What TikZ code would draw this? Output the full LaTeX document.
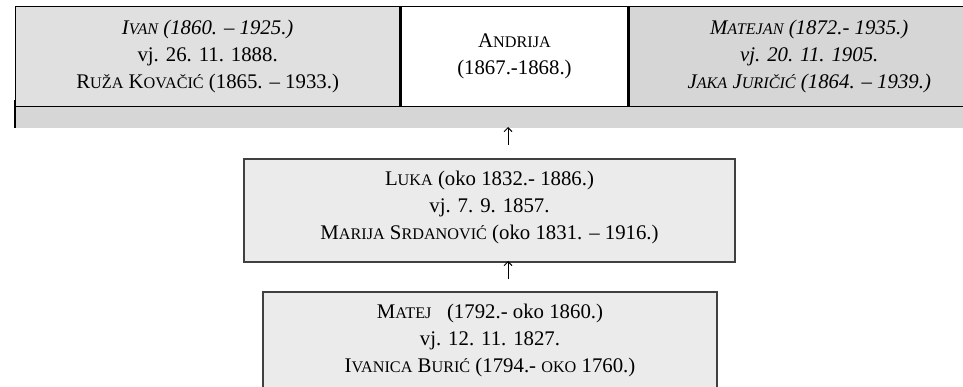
\documentclass[tikz,border=0pt]{standalone}
\usepackage{fontspec}
\setmainfont{Liberation Serif}
\usetikzlibrary{arrows.meta}

\definecolor{hellgrau}{HTML}{E0E0E0}
\definecolor{mittelgrau}{HTML}{D6D6D6}
\definecolor{kastengrau}{HTML}{EBEBEB}
\definecolor{rahmengrau}{HTML}{404040}

% Kapitaelchen von Hand (Anfangsbuchstabe gross, Rest kleiner)
\newcommand{\kap}[2]{#1{\fontsize{16.2}{16.2}\selectfont #2}}

\tikzset{
  schrift/.style={align=center, inner sep=0pt, font=\fontsize{20.8}{27}\selectfont},
  zelle/.style={schrift, draw=black, line width=1.3pt, anchor=north west},
  kasten/.style={draw=rahmengrau, fill=kastengrau, line width=2pt, anchor=north west, inner sep=0pt},
  pfeil/.style={-{Straight Barb[length=4pt,width=8pt]}, line width=0.9pt}
}

\begin{document}
\begin{tikzpicture}[x=1pt,y=-1pt]
				      \useasboundingbox (0,0) rectangle (963,387);
				      \clip (0,0) rectangle (963,387);

				      % Streifen unter der oberen Reihe
				      \fill[mittelgrau] (15,106) rectangle (980,128);
				      \draw[line width=1.3pt] (15,100) -- (15,128);

				      % Obere Reihe: Geschwister
				      \node[zelle, fill=hellgrau, minimum width=384pt, minimum height=100pt] (ivan) at (15,6)
				        {\itshape\kap{I}{VAN} (1860. -- 1925.)\\vj. 26. 11. 1888.\\\kap{R}{UŽA} \kap{K}{OVAČIĆ} (1865. -- 1933.)};
				      \node[zelle, fill=white, minimum width=227pt, minimum height=100pt] (andrija) at (ivan.north east)
				        {\kap{A}{NDRIJA}\\(1867.-1868.)};
				      \node[zelle, fill=mittelgrau, minimum width=360pt, minimum height=100pt] (matejan) at (andrija.north east)
				        {\itshape\kap{M}{ATEJAN} (1872.- 1935.)\\\itshape vj. 20. 11. 1905.\\\itshape\kap{J}{AKA} \kap{J}{URIČIĆ} (1864. -- 1939.)};

				      % Luka
				      \node[kasten, minimum width=491pt, minimum height=103pt] (luka) at (243,158) {};
				      \node[schrift] (lukatext) at ([yshift=3pt]luka.center)
				        {\kap{L}{UKA} (oko 1832.- 1886.)\\vj. 7. 9. 1857.\\\kap{M}{ARIJA} \kap{S}{RDANOVIĆ} (oko 1831. -- 1916.)};

				      % Matej (unten abgeschnitten)
				      \node[kasten, minimum width=454pt, minimum height=140pt] (matej) at (262,291) {};
				      \node[schrift] (matejtext) at ([yshift=-49pt]matej.north)
				        {\kap{M}{ATEJ}\ \ \ (1792.- oko 1860.)\\vj. 12. 11. 1827.\\\kap{I}{VANICA} \kap{B}{URIĆ} (1794.- \kap{}{OKO} 1760.)};

				      % Pfeile
				      \coordinate (p1) at (508,145);
				      \coordinate (p2) at (508,127);
				      \coordinate (p3) at (508,279);
				      \coordinate (p4) at (508,261);
				      \draw[pfeil] (p1) -- (p2);
				      \draw[pfeil] (p3) -- (p4);

\end{tikzpicture}
\end{document}
